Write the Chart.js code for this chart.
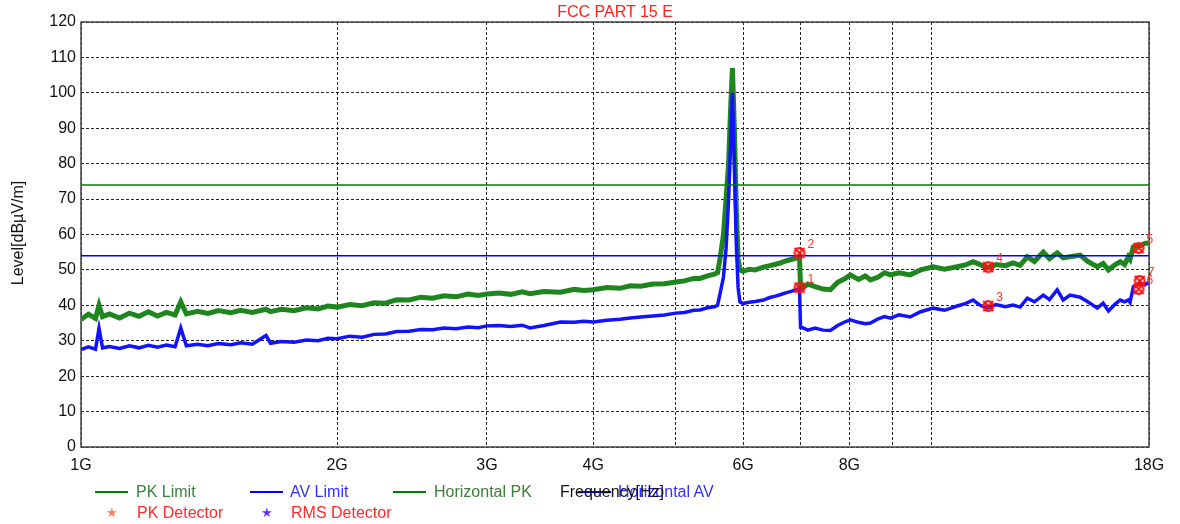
<!DOCTYPE html>
<html>
<head>
  <title>FCC PART 15 E</title>
  <style>
    body { margin: 0; background: #fff; font-family: 'Liberation Sans', Arial, sans-serif; }
    #wrap { position: relative; width: 1180px; height: 524px; }
    #chart { position: absolute; left: 0; top: 0; }
    .txt { position: absolute; font-size: 16px; line-height: 18px; white-space: nowrap; }
    .ln { position: absolute; height: 2px; width: 33px; }
    .star { position: absolute; font-family: 'DejaVu Sans', sans-serif; font-size: 13px; line-height: 18px; }
  </style>
</head>
<body>
<div id="wrap">
  <canvas id="chart" width="1180" height="524"></canvas>

  <div class="txt" style="left:515px; top:3px; width:200px; text-align:center; color:#ff2020;">FCC PART 15 E</div>
  <div class="txt" style="left:-82px; top:224px; width:200px; text-align:center; color:#111; transform:rotate(-90deg);">Level[dBµV/m]</div>

  <!-- legend row 1 -->
  <div class="ln" style="left:95px; top:491px; background:#008000;"></div>
  <div class="txt" style="left:136px; top:483px; color:#3a7f3a;">PK Limit</div>
  <div class="ln" style="left:250px; top:491px; background:#0000ff;"></div>
  <div class="txt" style="left:290px; top:483px; color:#3030ff;">AV Limit</div>
  <div class="ln" style="left:393px; top:491px; background:#008000;"></div>
  <div class="txt" style="left:434px; top:483px; color:#3a7f3a;">Horizontal PK</div>
  <div class="ln" style="left:578px; top:491px; background:#0000ff;"></div>
  <div class="txt" style="left:618px; top:483px; color:#3030ff;">Horizontal AV</div>
  <div class="txt" style="left:560px; top:483px; color:#111;">Frequency[Hz]</div>

  <!-- legend row 2 -->
  <div class="star" style="left:106px; top:504px; color:#f08060;">★</div>
  <div class="txt" style="left:137px; top:504px; color:#ff2a2a;">PK Detector</div>
  <div class="star" style="left:261px; top:504px; color:#7030f0;">★</div>
  <div class="txt" style="left:291px; top:504px; color:#ff2a2a;">RMS Detector</div>
</div>

<script src="https://cdn.jsdelivr.net/npm/chart.js"></script>
<script>
  // frequency points in GHz
  const freqs = [1.00, 1.02, 1.04, 1.05, 1.06, 1.08, 1.11, 1.14, 1.17, 1.20, 1.23, 1.26, 1.29, 1.31, 1.33, 1.37,
    1.41, 1.45, 1.50, 1.54, 1.59, 1.65, 1.67, 1.72, 1.78, 1.84, 1.90, 1.95, 2.00, 2.07, 2.14, 2.21, 2.28, 2.35,
    2.43, 2.51, 2.59, 2.67, 2.76, 2.85, 2.93, 3.00, 3.10, 3.20, 3.30, 3.37, 3.50, 3.66, 3.80, 3.90, 4.00, 4.15,
    4.30, 4.42, 4.55, 4.70, 4.85, 5.00, 5.12, 5.25, 5.34, 5.45, 5.55, 5.60, 5.64, 5.69, 5.73, 5.77, 5.80, 5.83,
    5.86, 5.89, 5.92, 5.95, 6.00, 6.10, 6.20, 6.34, 6.45, 6.55, 6.63, 6.75, 6.85, 6.99, 7.01, 7.06, 7.15, 7.29,
    7.45, 7.60, 7.75, 7.90, 8.02, 8.20, 8.35, 8.47, 8.65, 8.80, 8.94, 9.15, 9.43, 9.70, 10.04, 10.35, 10.71,
    10.95, 11.18, 11.40, 11.62, 11.90, 12.20, 12.46, 12.70, 12.95, 13.20, 13.52, 13.75, 14.04, 14.27, 14.54,
    14.94, 15.25, 15.65, 15.90, 16.13, 16.40, 16.65, 16.85, 17.02, 17.10, 17.25, 17.58, 17.80, 18.00];

  // Horizontal PK trace (dBuV/m)
  const horizPK = [36.0, 37.5, 36.3, 40.0, 36.8, 37.6, 36.4, 37.8, 36.9, 38.2, 37.0, 38.0, 37.3, 41.0, 37.6, 38.3,
    37.7, 38.5, 37.9, 38.6, 38.0, 38.9, 38.2, 38.9, 38.5, 39.3, 39.0, 39.8, 39.5, 40.2, 39.9, 40.7, 40.6, 41.6,
    41.5, 42.3, 42.0, 42.7, 42.4, 43.2, 42.8, 43.2, 43.5, 43.1, 43.8, 43.3, 43.9, 43.7, 44.5, 44.2, 44.4, 45.0,
    44.8, 45.5, 45.4, 46.0, 46.1, 46.6, 46.9, 47.6, 47.6, 48.3, 48.8, 49.2, 53.5, 60.0, 70.0, 80.0, 95.0, 107.0,
    90.0, 68.0, 53.0, 50.0, 49.6, 50.2, 50.0, 50.8, 51.2, 51.6, 51.9, 52.6, 53.0, 53.6, 45.2, 45.0, 46.0, 45.3,
    44.6, 44.4, 46.5, 47.5, 48.6, 47.3, 48.3, 47.2, 48.0, 49.2, 48.6, 49.2, 48.6, 50.0, 50.9, 50.2, 50.9,
    51.4, 52.3, 51.5, 50.6, 51.5, 51.2, 52.0, 51.3, 53.7, 52.4, 55.0, 53.2, 54.8, 53.4, 53.7,
    54.2, 52.4, 50.9, 51.8, 50.0, 51.4, 52.3, 51.5, 53.7, 53.0, 56.5, 56.8, 57.5, 57.6];

  // Horizontal AV trace (dBuV/m)
  const horizAV = [27.5, 28.3, 27.6, 33.5, 28.0, 28.4, 27.8, 28.6, 28.0, 28.7, 28.2, 28.8, 28.3, 33.6, 28.6, 29.0,
    28.6, 29.2, 28.9, 29.4, 29.0, 31.5, 29.3, 29.8, 29.6, 30.2, 30.0, 30.7, 30.6, 31.3, 31.0, 31.8, 31.9, 32.6,
    32.7, 33.2, 33.1, 33.6, 33.4, 33.9, 33.7, 34.2, 34.3, 34.0, 34.4, 33.6, 34.3, 35.3, 35.2, 35.5, 35.3, 35.8,
    36.1, 36.4, 36.7, 37.0, 37.3, 37.8, 38.0, 38.6, 38.7, 39.3, 39.6, 40.0, 43.5, 48.0, 56.0, 70.0, 85.0, 100.0,
    80.0, 58.0, 45.0, 41.0, 40.5, 40.9, 41.1, 41.5, 42.2, 42.6, 43.0, 43.6, 44.0, 44.8, 33.8, 33.6, 33.0, 33.6,
    33.0, 32.9, 34.3, 35.3, 35.9, 35.2, 34.8, 35.0, 36.2, 36.8, 36.4, 37.3, 36.7, 38.2, 39.2, 38.6, 39.8,
    40.5, 41.5, 40.0, 39.2, 40.2, 39.6, 40.1, 39.5, 42.0, 41.0, 42.9, 41.6, 44.4, 41.5, 42.9,
    42.3, 41.0, 39.2, 40.6, 38.4, 40.2, 41.5, 41.0, 41.5, 40.8, 45.2, 46.3, 45.8, 46.5];

  const pkLimit = 74;
  const avLimit = 54;

  // detector markers
  const markerFreqs = [6.99, 6.99, 11.65, 11.65, 17.5, 17.5, 17.55];
  const markerLevels = [45.0, 54.8, 39.8, 50.8, 56.2, 44.6, 46.9];
  const markerLabels = ['1', '2', '3', '4', '5', '6', '7'];

  const tickValues = [1, 2, 3, 4, 5, 6, 7, 8, 9, 10, 18];
  const tickLabels = { 1: '1G', 2: '2G', 3: '3G', 4: '4G', 6: '6G', 8: '8G', 18: '18G' };

  // marker symbol: red ring with a cross
  const mk = document.createElement('canvas');
  mk.width = 14; mk.height = 14;
  const mc = mk.getContext('2d');
  mc.strokeStyle = '#ff1010';
  mc.lineWidth = 2.2;
  mc.beginPath(); mc.arc(7, 7, 4.8, 0, Math.PI * 2); mc.stroke();
  mc.lineWidth = 1.8;
  mc.beginPath(); mc.moveTo(2, 2); mc.lineTo(12, 12); mc.moveTo(12, 2); mc.lineTo(2, 12); mc.stroke();

  const frame = {
    id: 'frame',
    beforeDatasetsDraw(chart) {
      const a = chart.chartArea, ctx = chart.ctx;
      ctx.save();
      ctx.strokeStyle = '#444';
      ctx.lineWidth = 1.5;
      ctx.strokeRect(a.left, a.top, a.right - a.left, a.bottom - a.top);
      ctx.restore();
    },
    afterDatasetsDraw(chart) {
      const meta = chart.getDatasetMeta(4), ctx = chart.ctx;
      ctx.save();
      ctx.fillStyle = '#ff3030';
      ctx.font = '12px "Liberation Sans", Arial, sans-serif';
      meta.data.forEach((p, i) => ctx.fillText(markerLabels[i], p.x + 8, p.y - 5));
      ctx.restore();
    }
  };

  const toXY = (ys) => freqs.map((f, i) => ({ x: f, y: ys[i] }));

  new Chart(document.getElementById('chart'), {
    type: 'line',
    data: {
      datasets: [
        { label: 'PK Limit', data: [{ x: 1, y: pkLimit }, { x: 18, y: pkLimit }], borderColor: '#008000', borderWidth: 1.5, pointRadius: 0, order: 1 },
        { label: 'AV Limit', data: [{ x: 1, y: avLimit }, { x: 18, y: avLimit }], borderColor: '#0000ff', borderWidth: 1.5, pointRadius: 0, order: 1 },
        { label: 'Horizontal PK', data: toXY(horizPK), borderColor: '#1f861f', borderWidth: 5, pointRadius: 0, order: 3 },
        { label: 'Horizontal AV', data: toXY(horizAV), borderColor: '#1212ff', borderWidth: 3.5, pointRadius: 0, order: 2 },
        { label: 'Markers', data: markerFreqs.map((f, i) => ({ x: f, y: markerLevels[i] })), showLine: false,
          pointStyle: mk, pointRadius: 7, order: 0 }
      ]
    },
    options: {
      responsive: false,
      animation: false,
      layout: { padding: { left: 0, right: 31, top: 22, bottom: 0 } },
      plugins: { legend: { display: false }, title: { display: false }, tooltip: { enabled: false } },
      scales: {
        x: {
          type: 'logarithmic',
          min: 1,
          max: 18,
          afterBuildTicks: (s) => { s.ticks = tickValues.map(v => ({ value: v })); },
          afterFit: (s) => { s.height = 77; },
          grid: { color: '#222', lineWidth: 1, drawTicks: false },
          border: { display: false, dash: [3, 2] },
          ticks: {
            autoSkip: false, maxRotation: 0, padding: 9, color: '#111',
            font: { family: '"Liberation Sans", Arial, sans-serif', size: 16 },
            callback: (v) => tickLabels[v] || ''
          }
        },
        y: {
          min: 0,
          max: 120,
          afterFit: (s) => { s.width = 81; },
          grid: { color: '#222', lineWidth: 1, drawTicks: false },
          border: { display: false, dash: [3, 2] },
          ticks: {
            stepSize: 10, padding: 5, color: '#111',
            font: { family: '"Liberation Sans", Arial, sans-serif', size: 16 }
          }
        }
      }
    },
    plugins: [frame]
  });
</script>
</body>
</html>
